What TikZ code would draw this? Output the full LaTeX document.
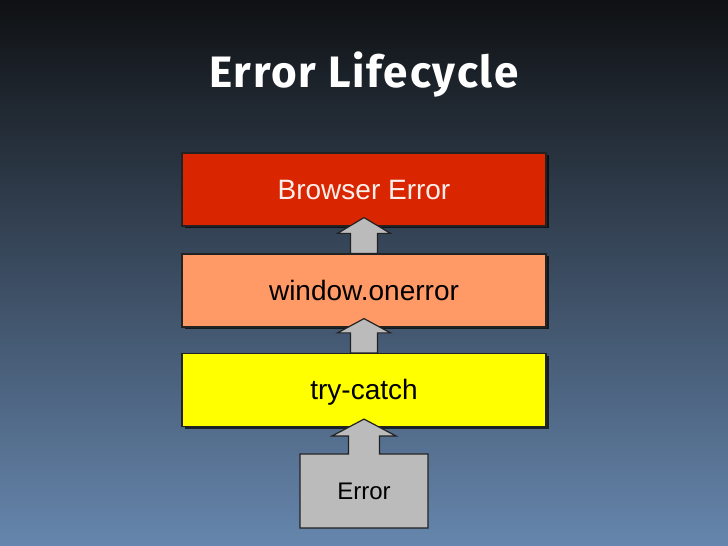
\documentclass[tikz,border=0pt]{standalone}
\usepackage{fontspec}
\setmainfont{Liberation Sans}
\newfontfamily\titlefont[LetterSpace=4]{Fira Sans}
\usetikzlibrary{calc,shadows}
\definecolor{bgtop}{HTML}{0F1113}
\definecolor{bgbot}{HTML}{6686AD}
\definecolor{brred}{HTML}{D92600}
\definecolor{onerr}{HTML}{FF9966}
\definecolor{tryy}{HTML}{FFFF00}
\definecolor{gr}{HTML}{BBBBBB}
\definecolor{ln}{HTML}{222222}

\begin{document}
\begin{tikzpicture}[
        x=1pt,y=1pt,
        box/.style={draw=ln,line width=1.2pt,minimum width=364pt,minimum height=73pt,
            inner sep=0pt,font=\fontsize{28}{30}\selectfont,text height=20pt,text depth=0pt,
            drop shadow={shadow xshift=2.5pt,shadow yshift=-2.5pt,fill=black,opacity=.7}},
        uparrow/.style={draw=ln,line width=1.2pt,fill=gr,line join=miter},
    ]

% background
\shade[top color=bgtop,bottom color=bgbot] (0,0) rectangle (728,546);
\useasboundingbox (0,0) rectangle (728,546);

% title
\node[anchor=base,text=white,font=\titlefont\bfseries\fontsize{44}{46}\selectfont] (title) at (364,458) {Error Lifecycle};

% the three stages
\node[box,fill=brred,text={white!92!brred}] (browser) at (364,356.5) {Browser Error};
\node[box,fill=onerr] (onerror) at (364,255.5) {window.onerror};
\node[box,fill=tryy] (trycatch) at (364,156) {try-catch};

% block arrows between the stages
\foreach \lo/\hi in {onerror/browser,trycatch/onerror}
  \draw[uparrow] ($(\lo.north)+(-13.5,0)$) -- ++(0,20) -- ++(-13,0)
      -- ($(\hi.south)+(0,9)$) -- ($(\lo.north)+(26.5,20)$) -- ++(-13,0)
      -- ($(\lo.north)+(13.5,0)$) -- cycle;

% error box with its arrow
\coordinate (errc) at (364,55);
\draw[uparrow] ($(errc)+(-64,-37)$) -- ($(errc)+(64,-37)$) -- ($(errc)+(64,37)$)
    -- ($(errc)+(15.5,37)$) -- ++(0,18) -- ++(16.5,0) -- ($(trycatch.south)+(0,8)$)
    -- ($(errc)+(-32,55)$) -- ++(16.5,0) -- ++(0,-18) -- ($(errc)+(-64,37)$) -- cycle;
\node[font=\fontsize{24}{26}\selectfont,text height=17pt,text depth=0pt] (error) at (errc) {Error};
\end{tikzpicture}
\end{document}
